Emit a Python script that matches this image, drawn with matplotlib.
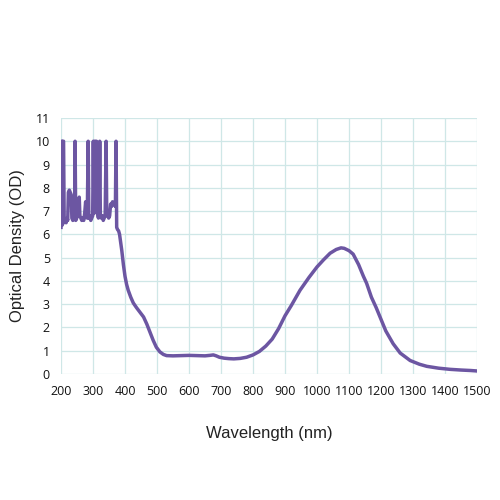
import matplotlib
matplotlib.use("Agg")
import matplotlib.pyplot as plt

# Noisy UV region (wavelength nm, OD)
noise_wl = [200, 201, 203, 204, 206, 208, 210, 213, 216, 219, 221, 223, 226, 229, 232, 234,
            237, 240, 243, 244, 246, 249, 252, 255, 257, 259, 262, 265, 268, 271, 274, 277,
            279, 282, 285, 287, 290, 293, 296, 299, 301, 303, 305, 307, 309, 311, 313, 315,
            317, 319, 321, 323, 326, 329, 332, 335, 338, 341, 343, 346, 349, 352, 355, 358,
            361, 364, 367, 370, 372, 374, 377]
noise_od = [6.3, 10, 10, 6.4, 10, 10, 6.5, 6.6, 6.5, 6.7, 6.6, 7.8, 7.9, 7.8, 7.7, 6.7,
            6.6, 6.7, 6.8, 10, 6.6, 6.7, 6.8, 7.5, 7.6, 6.8, 6.7, 6.6, 6.7, 6.6, 6.9, 7.4,
            6.9, 6.7, 10, 6.7, 6.8, 6.6, 6.7, 6.8, 10, 6.9, 10, 10, 7.0, 10, 7.1, 6.8,
            6.7, 6.9, 10, 6.8, 6.7, 6.8, 6.6, 6.7, 6.8, 10, 6.8, 6.9, 6.7, 6.8, 7.3, 7.2,
            7.4, 7.3, 7.3, 7.2, 10, 6.3, 6.2]

# Smooth region
smooth_wl = [380, 383, 386, 390, 395, 400, 405, 410, 418, 426, 436, 447, 458, 468, 478, 488,
             498, 509, 520, 530, 550, 575, 600, 625, 650, 665, 676, 685, 695, 710, 725, 740,
             760, 780, 800, 820, 840, 860, 880, 900, 920, 947, 975, 1000, 1020, 1041, 1060,
             1075, 1085, 1100, 1113, 1130, 1145, 1155, 1170, 1185, 1197, 1215, 1238, 1260,
             1291, 1320, 1343, 1380, 1416, 1450, 1480, 1500]
smooth_od = [6.15, 6.0, 5.7, 5.3, 4.7, 4.2, 3.85, 3.6, 3.3, 3.05, 2.85, 2.65, 2.45, 2.15, 1.8, 1.45,
             1.15, 0.95, 0.84, 0.79, 0.78, 0.79, 0.8, 0.79, 0.78, 0.8, 0.82, 0.78, 0.72, 0.68, 0.66, 0.65,
             0.67, 0.72, 0.82, 0.97, 1.2, 1.5, 1.95, 2.5, 2.95, 3.6, 4.15, 4.6, 4.9, 5.19, 5.35,
             5.42, 5.4, 5.3, 5.15, 4.7, 4.2, 3.9, 3.3, 2.85, 2.45, 1.85, 1.3, 0.9,
             0.58, 0.42, 0.33, 0.25, 0.2, 0.17, 0.15, 0.13]

x_ticks = list(range(200, 1501, 100))
y_ticks = list(range(0, 12))

wl = noise_wl + smooth_wl
od = noise_od + smooth_od

plt.rcParams['font.family'] = ['Open Sans', 'DejaVu Sans']

fig = plt.figure(figsize=(5, 5), dpi=100)
ax = fig.add_axes([0.122, 0.252, 0.832, 0.512])
ax.plot(wl, od, color='#6c56a2', linewidth=2.5, solid_joinstyle='round')
ax.set_xlim(200, 1500)
ax.set_ylim(0, 11)
ax.set_xticks(x_ticks)
ax.set_yticks(y_ticks)
ax.grid(True, color='#cfe7e7', linewidth=0.9)
ax.set_axisbelow(True)
for s in ax.spines.values():
    s.set_visible(False)
ax.tick_params(length=0, labelsize=9, pad=8, colors='#111111')
ax.set_xlabel('Wavelength (nm)', fontsize=12, labelpad=20,
              family=['Liberation Sans', 'DejaVu Sans'], color='#222222')
ax.set_ylabel('Optical Density (OD)', fontsize=12, labelpad=8,
              family=['Liberation Sans', 'DejaVu Sans'], color='#222222')
fig.savefig('out.png', dpi=100, facecolor='white')
